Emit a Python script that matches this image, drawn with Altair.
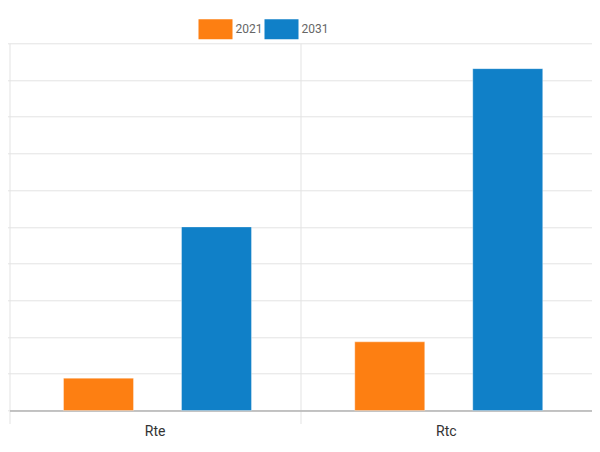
import altair as alt
import pandas as pd

categories = ["Rte", "Rte", "Rtc", "Rtc"]
years = ["2021", "2031", "2021", "2031"]
values = [0.88, 5.0, 1.87, 9.31]
y_ticks = list(range(0, 11))
year_domain = ["2021", "2031"]
colors = ["#fd7f12", "#1080c8"]

df = pd.DataFrame({"cat": categories, "year": years, "value": values})

FONT = "Liberation Sans Narrow, Arial Narrow, Roboto, sans-serif"
GRID = "#e3e3e3"

chart = alt.Chart(df).mark_bar(stroke="white", strokeOpacity=0.35, strokeWidth=1).encode(
    x=alt.X("cat:N", sort=["Rte", "Rtc"], title=None,
            scale=alt.Scale(paddingInner=0, paddingOuter=0),
            axis=alt.Axis(bandPosition=0, tickExtra=False, grid=True, gridColor=GRID,
                          tickColor=GRID, tickSize=13, domainColor="#b3b3b3", domainWidth=1.5,
                          labelAngle=0, labelFont=FONT, labelFontSize=14, labelColor="#333333",
                          labelPadding=1)),
    xOffset=alt.XOffset("year:N", sort=year_domain,
                        scale=alt.Scale(paddingInner=0.407, paddingOuter=0.4377, align=0.523)),
    y=alt.Y("value:Q", title=None, scale=alt.Scale(domain=[0, 10], nice=False),
            axis=alt.Axis(values=y_ticks, labels=False, domain=False, tickSize=9,
                          tickColor=GRID, gridColor=GRID)),
    color=alt.Color("year:N", scale=alt.Scale(domain=year_domain, range=colors),
                    legend=alt.Legend(title=None, orient="none", legendX=189, legendY=-31,
                                      direction="horizontal",
                                      symbolType="M-1,-0.588L1,-0.588L1,0.588L-1,0.588Z",
                                      symbolSize=1156, symbolStrokeWidth=0, symbolOpacity=1,
                                      labelFont=FONT, labelFontSize=12, labelColor="#666666",
                                      labelOffset=3, columnPadding=2, padding=0)),
).properties(
    width=582.5, height=367.2,
    padding={"left": 1.5, "top": 35.3, "right": 0, "bottom": 28},
    autosize="none",
).configure_view(stroke=None)

chart.save("out.html", embed_options={"renderer": "svg", "actions": False})
